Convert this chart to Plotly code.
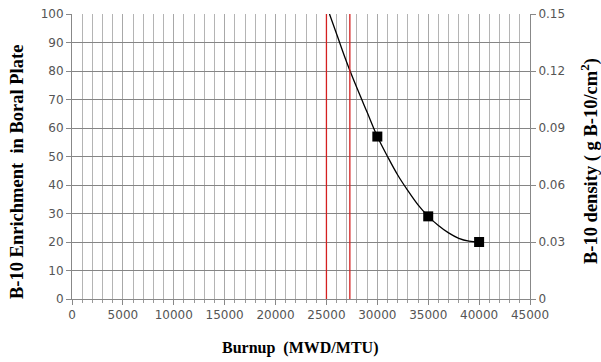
import plotly.graph_objects as go

# data
burnup_pts = [30000, 35000, 40000]
enrich_pts = [57, 29, 20]

curve_x = [25300, 26000, 27000, 28000, 29000, 30000, 31000, 32000, 33000, 34000,
           35000, 36000, 37000, 38000, 39000, 40000]
curve_y = [100, 93, 83, 74, 65.5, 57, 50, 43.5, 38, 33, 29, 25.8, 23.2, 21.3, 20.3, 20]

red_lines = [25000, 27300]

x_ticks = list(range(0, 45001, 5000))
y_ticks = list(range(0, 101, 10))
y2_ticks = [0, 0.03, 0.06, 0.09, 0.12, 0.15]
y2_labels = ["0", "0.03", "0.06", "0.09", "0.12", "0.15"]

fig = go.Figure()
fig.add_trace(go.Scatter(x=curve_x, y=curve_y, mode="lines", line=dict(color="black", width=1.3, shape="spline"),
                         showlegend=False, hoverinfo="skip"))
fig.add_trace(go.Scatter(x=burnup_pts, y=enrich_pts, mode="markers",
                         marker=dict(symbol="square", size=10, color="black"), showlegend=False))
fig.add_trace(go.Scatter(x=[None], y=[None], yaxis="y2", showlegend=False))

for xv in red_lines:
    fig.add_shape(type="line", x0=xv, x1=xv, y0=0, y1=100, xref="x", yref="y",
                  line=dict(color="#d42020", width=1.3))

tickfont = dict(family="DejaVu Sans", size=12, color="#555555")
titlefont = dict(family="Liberation Serif", size=16, color="black")
sidefont = dict(family="Liberation Serif", size=18.5, color="black")

W, H = 601, 362
L, R, T, B = 72, 71, 14, 63

fig.update_layout(
    width=W, height=H,
    margin=dict(l=L, r=R, t=T, b=B),
    plot_bgcolor="white", paper_bgcolor="white",
    xaxis=dict(range=[0, 45000], tickvals=x_ticks, ticktext=[str(v) for v in x_ticks],
               showgrid=True, gridcolor="#a8a8a8", gridwidth=1,
               minor=dict(dtick=1000, showgrid=True, gridcolor="#b4b4b4", gridwidth=1,
                          ticks="outside", ticklen=3, tickcolor="#999999"),
               showline=True, linecolor="#888888", ticks="outside", ticklen=5, tickcolor="#888888",
               tickfont=tickfont, zeroline=False, automargin=False),
    yaxis=dict(range=[0, 100], tickvals=y_ticks, showgrid=True, gridcolor="#858585", gridwidth=1,
               showline=True, linecolor="#888888", ticks="outside", ticklen=5, tickcolor="#888888",
               tickfont=tickfont, zeroline=False, automargin=False, ticklabeloverflow="allow"),
    yaxis2=dict(range=[0, 0.15], tickvals=y2_ticks, ticktext=y2_labels, overlaying="y", side="right",
                showgrid=False, showline=True, linecolor="#888888", ticks="outside", ticklen=5,
                tickcolor="#888888", tickfont=tickfont, zeroline=False, automargin=False,
                ticklabeloverflow="allow"),
    annotations=[
        dict(text="<b>Burnup  (MWD/MTU)</b>", x=300, y=348, showarrow=False, font=titlefont),
        dict(text="<b>B-10 Enrichment  in Boral Plate</b>", x=17, y=172, showarrow=False,
             textangle=-90, font=sidefont),
        dict(text="<b>B-10 density ( g B-10/cm<sup>2</sup>)</b>", x=589, y=161, showarrow=False,
             textangle=-90, font=sidefont),
    ],
)

# convert window-pixel positions for annotations into paper coordinates
pw, ph = W - L - R, H - T - B
for a in fig.layout.annotations:
    px, py = a.x, a.y
    a.xref = "paper"; a.yref = "paper"
    a.x = (px - L) / pw
    a.y = 1 - (py - T) / ph
    a.xanchor = "center"; a.yanchor = "middle"

fig.write_html("out.html", config={"displayModeBar": False},
               post_script="document.body.style.margin='0';document.body.style.overflow='hidden';")
